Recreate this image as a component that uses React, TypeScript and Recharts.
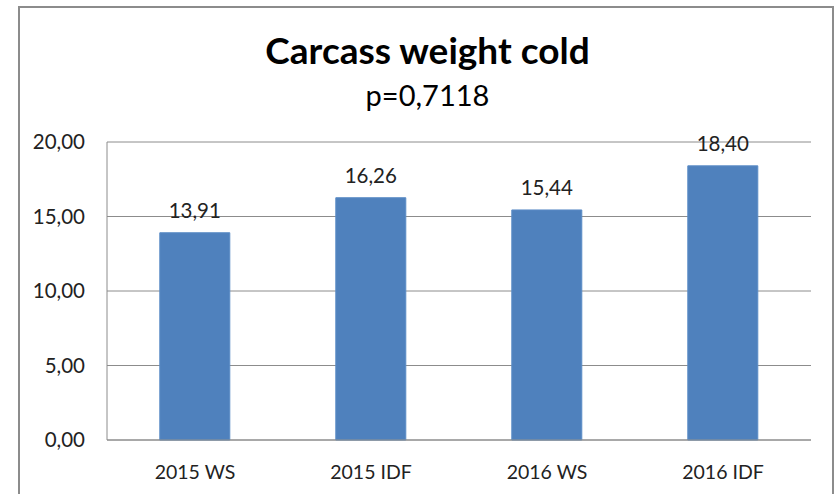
import React from 'react';
import { BarChart, Bar, XAxis, YAxis, CartesianGrid, LabelList } from 'recharts';

const categories = ['2015 WS', '2015 IDF', '2016 WS', '2016 IDF'];
const weights = [13.91, 16.26, 15.44, 18.4];
const yTicks = [0, 5, 10, 15, 20];

const data = categories.map((name, i) => ({ name, value: weights[i] }));

const FONT = 'Lato, "Open Sans", sans-serif';
const fmt = (v: number) => v.toFixed(2).replace('.', ',');

export default function App() {
  return (
    <div style={{ position: 'absolute', left: 0, top: 0, width: 836, height: 494, background: '#fff', fontFamily: FONT, overflow: 'hidden' }}>
      <div
        style={{
          position: 'absolute',
          left: 18,
          top: 6,
          width: 816,
          height: 500,
          border: '2px solid #8c8c8c',
          boxSizing: 'border-box',
        }}
      />
      <div style={{ position: 'absolute', left: 19, width: 817, top: 31, lineHeight: 1, textAlign: 'center', fontSize: 37, fontWeight: 700, color: '#000' }}>
        Carcass weight cold
      </div>
      <div style={{ position: 'absolute', left: 19, width: 817, top: 80, lineHeight: 1, textAlign: 'center', fontSize: 29, color: '#000' }}>
        p=0,7118
      </div>
      <div style={{ position: 'absolute', left: 0, top: 0 }}>
        <BarChart
          width={836}
          height={494}
          data={data}
          margin={{ top: 142, right: 25, bottom: 24, left: 0 }}
          barCategoryGap="30%"
        >
          <CartesianGrid vertical={false} stroke="#8c8c8c" />
          <XAxis
            dataKey="name"
            height={30}
            tickLine={false}
            axisLine={{ stroke: '#8c8c8c' }}
            tickMargin={19}
            tick={{ fill: '#222', fontSize: 19.5, fontFamily: FONT }}
          />
          <YAxis
            width={107}
            domain={[0, 20]}
            ticks={yTicks}
            tickFormatter={fmt}
            tickLine={false}
            axisLine={{ stroke: '#8c8c8c' }}
            tickMargin={16}
            tick={{ fill: '#222', fontSize: 20.5, fontFamily: FONT }}
          />
          <Bar dataKey="value" fill="#4f81bd" stroke="#5b8cc6" strokeWidth={1} isAnimationActive={false}>
            <LabelList dataKey="value" position="top" offset={15} formatter={(v: any) => fmt(Number(v))} style={{ fill: '#222', fontSize: 20.5, fontFamily: FONT }} />
          </Bar>
        </BarChart>
      </div>
    </div>
  );
}
